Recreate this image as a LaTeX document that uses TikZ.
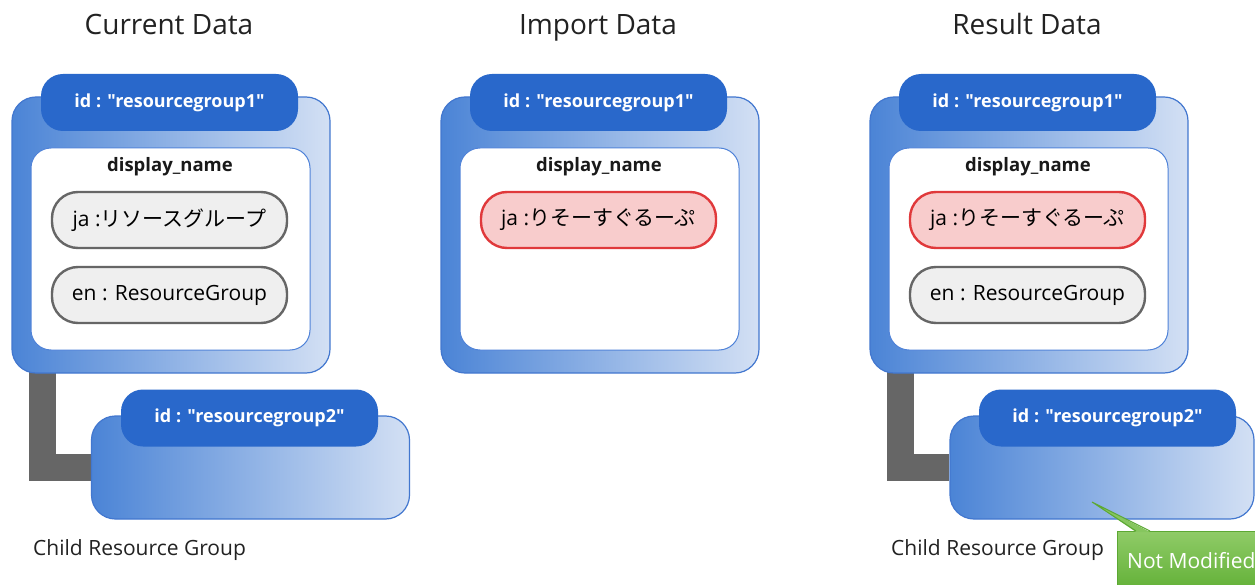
\documentclass[tikz,border=0pt]{standalone}
\usepackage{fontspec}
\setmainfont{Open Sans}[Ligatures=TeXOff]
\newfontfamily\jp{Noto Sans CJK JP}
\usetikzlibrary{backgrounds}
\definecolor{tabblue}{HTML}{2968CB}
\definecolor{gradl}{HTML}{4B84D6}
\definecolor{gradr}{HTML}{D3E0F4}
\definecolor{boxedge}{HTML}{4277CF}
\definecolor{inneredge}{HTML}{4F82D8}
\definecolor{pillgray}{HTML}{666666}
\definecolor{pillfill}{HTML}{EFEFEF}
\definecolor{pillred}{HTML}{E0393B}
\definecolor{pillredfill}{HTML}{F8CCCC}
\definecolor{conngray}{HTML}{666666}
\definecolor{greentop}{HTML}{8FCB67}
\definecolor{greenbot}{HTML}{56A92A}
\definecolor{greenedge}{HTML}{5CA833}
\definecolor{titletext}{HTML}{222222}
\tikzset{
  outerbox/.style={draw=boxedge, line width=1.2pt, rounded corners=24pt, left color=gradl, right color=gradr, minimum width=318pt, minimum height=276pt, inner sep=0pt},
  childbox/.style={outerbox, minimum height=103pt},
  tabbox/.style={fill=tabblue, rounded corners=22pt, minimum width=257pt, minimum height=57pt, text=white, font=\fontsize{18}{20}\selectfont\bfseries, inner sep=0pt},
  innerbox/.style={draw=inneredge, fill=white, line width=1pt, rounded corners=20pt, minimum width=279pt, minimum height=202pt, inner sep=0pt},
  pill/.style={line width=2.4pt, rounded corners=26pt, minimum width=235pt, minimum height=56pt, font=\fontsize{21}{24}\selectfont, inner sep=0pt, text=black},
  graypill/.style={pill, draw=pillgray, fill=pillfill},
  redpill/.style={pill, draw=pillred, fill=pillredfill},
  dnlabel/.style={font=\fontsize{18.5}{20}\selectfont\bfseries, anchor=base, inner sep=0pt, text=black!90},
  titlelabel/.style={font=\fontsize{28}{30}\selectfont, anchor=base, inner sep=0pt, text=titletext},
  caption/.style={font=\fontsize{21}{24}\selectfont, anchor=base west, inner sep=0pt, text=titletext},
  conn/.style={draw=conngray, line width=27pt},
  callout/.style={top color=greentop, bottom color=greenbot, draw=greenedge, line width=1pt, minimum width=170pt, minimum height=75pt, anchor=north west, inner sep=0pt},
  callouttext/.style={font=\fontsize{21}{24}\selectfont, text=white, anchor=base west, inner sep=0pt}
}
\begin{document}
\begin{tikzpicture}[x=1pt,y=-1pt]
\useasboundingbox (0,0) rectangle (1255,585);
\clip (0,0) rectangle (1255,585);
\begin{scope}[on background layer]
\fill[white] (0,0) rectangle (1255,585);
\end{scope}
% ---------- Current Data ----------
\node[titlelabel] (c-title) at (169,35) {Current Data};
\node[outerbox] (c-outer) at (171,235) {};
\node[tabbox] (c-tab) at (169.5,102.5) {id : "resourcegroup1"};
\node[innerbox] (c-inner) at (170.5,249) {};
\node[dnlabel] (c-dn) at (170,172) {display\_name};
\node[graypill] (c-ja) at (169.5,220) {ja :{\jp リソースグループ}};
\node[graypill] (c-en) at (169.5,295) {en : ResourceGroup};
\node[childbox] (c-child) at (250.5,467.5) {};
\node[tabbox] (c-ctab) at (249.5,418) {id : "resourcegroup2"};
\node[caption] (c-cap) at (33,555) {Child Resource Group};
\begin{scope}[on background layer]
\draw[conn] ([xshift=31pt,yshift=5pt]c-outer.south west) |- (c-child.west);
\end{scope}
% ---------- Import Data ----------
\node[titlelabel] (i-title) at (598,35) {Import Data};
\node[outerbox] (i-outer) at (600,235) {};
\node[tabbox] (i-tab) at (598.5,102.5) {id : "resourcegroup1"};
\node[innerbox] (i-inner) at (599.5,249) {};
\node[dnlabel] (i-dn) at (599,172) {display\_name};
\node[redpill] (i-ja) at (598.5,220) {ja :{\jp りそーすぐるーぷ}};
% ---------- Result Data ----------
\node[titlelabel] (r-title) at (1027,35) {Result Data};
\node[outerbox] (r-outer) at (1029,235) {};
\node[tabbox] (r-tab) at (1027.5,102.5) {id : "resourcegroup1"};
\node[innerbox] (r-inner) at (1028.5,249) {};
\node[dnlabel] (r-dn) at (1028,172) {display\_name};
\node[redpill] (r-ja) at (1027.5,220) {ja :{\jp りそーすぐるーぷ}};
\node[graypill] (r-en) at (1027.5,295) {en : ResourceGroup};
\node[childbox, minimum width=304pt] (r-child) at (1102,467.5) {};
\node[tabbox] (r-ctab) at (1107.5,418) {id : "resourcegroup2"};
\node[caption] (r-cap) at (891,555) {Child Resource Group};
\begin{scope}[on background layer]
\draw[conn] ([xshift=31pt,yshift=5pt]r-outer.south west) |- (r-child.west);
\end{scope}
% ---------- callout ----------
\node[callout] (nm) at (1117,531) {};
\node[callouttext] (nm-text) at (1127,568) {Not Modified};
\coordinate (tip) at (1092,502);
\fill[greentop!85!greenbot] (tip) -- ([xshift=19pt,yshift=-1pt]nm.north west) -- ([xshift=33pt,yshift=-1pt]nm.north west) -- cycle;
\draw[greenedge, line width=1pt] ([xshift=19pt]nm.north west) -- (tip) -- ([xshift=33pt]nm.north west);
\end{tikzpicture}
\end{document}
